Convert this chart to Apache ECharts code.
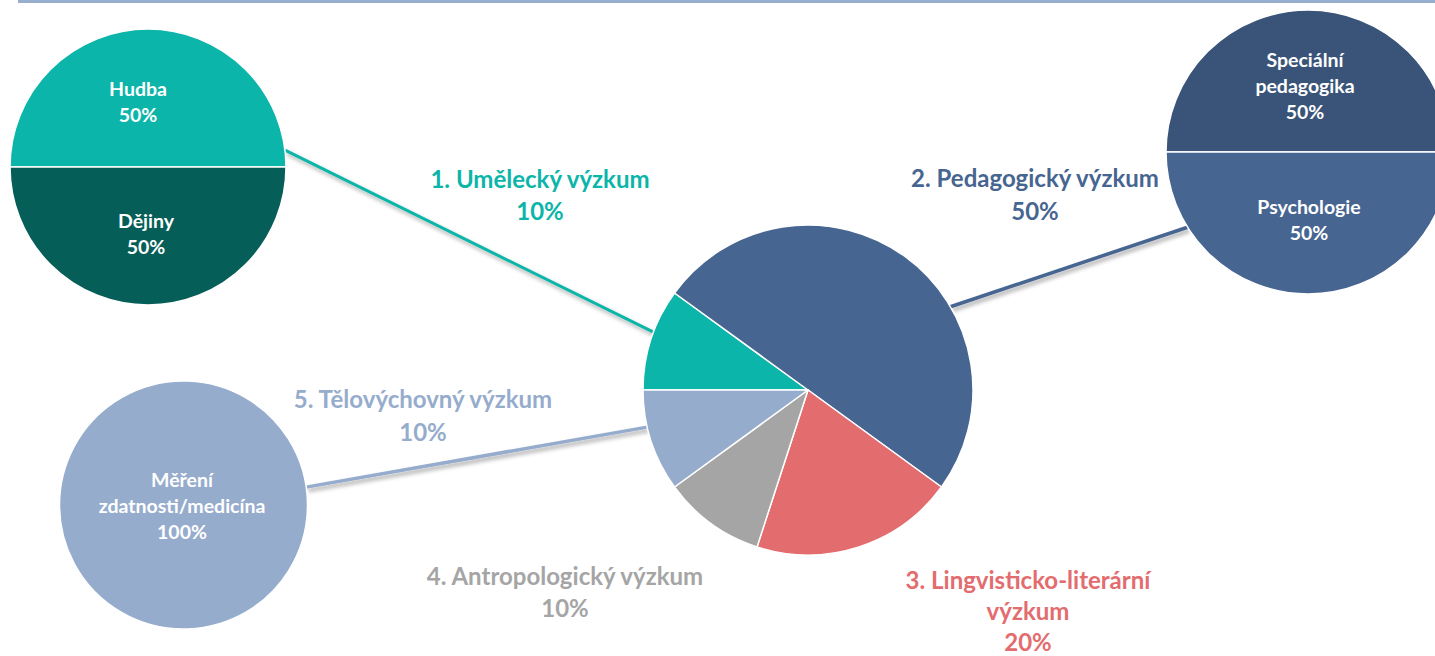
<!DOCTYPE html>
<html>
<head>
<meta charset="utf-8">
<script src="https://cdn.jsdelivr.net/npm/echarts@6/dist/echarts.min.js"></script>
<style>
html,body{margin:0;padding:0;background:#fff;}
#chart{width:1435px;height:656px;}
</style>
</head>
<body>
<div id="chart"></div>
<script>
// ---- data ----
const mainCategories = ['1. Umělecký výzkum', '2. Pedagogický výzkum', '3. Lingvisticko-literární\nvýzkum', '4. Antropologický výzkum', '5. Tělovýchovný výzkum'];
const mainValues = [10, 50, 20, 10, 10];
const artCategories = ['Hudba', 'Dějiny'];
const artValues = [50, 50];
const pedCategories = ['Speciální\npedagogika', 'Psychologie'];
const pedValues = [50, 50];
const sportCategories = ['Měření\nzdatnosti/medicína'];
const sportValues = [100];

// ---- styles / layout ----
const mainColors = ['#0bb5a9', '#476591', '#e36c6f', '#a5a5a5', '#96accc'];
const artColors = ['#0bb5a9', '#055e57'];
const pedColors = ['#3a5479', '#476591'];
const sportColors = ['#96accc'];

const MAIN = {c: [808, 390], r: 165};
const ART = {c: [148, 167], r: 138};
const PED = {c: [1308, 152], r: 142};
const SPORT = {c: [183.5, 505], r: 124};

// label anchor positions
const mainLabelPos = [[540, 194], [1035, 194], [1028, 610], [565, 591], [423, 415]];
const mainLineHeights = [32, 33, 31, 32, 33];
const artLabelPos = [[138, 101], [146, 233]];
const pedLabelPos = [[1305, 85], [1309, 219]];
const sportLabelPos = [[182, 505]];

const fontFamily = 'Lato, "Open Sans", sans-serif';

function pt(circle, deg) {
  const a = deg * Math.PI / 180;
  return [circle.c[0] + circle.r * Math.cos(a), circle.c[1] - circle.r * Math.sin(a)];
}
function connector(from, fromDeg, to, toDeg, color, width) {
  const p1 = pt(from, fromDeg), p2 = pt(to, toDeg);
  return {
    type: 'line', z: 1,
    shape: {x1: p1[0], y1: p1[1], x2: p2[0], y2: p2[1]},
    style: {stroke: color, lineWidth: width, shadowBlur: 4, shadowColor: 'rgba(0,0,0,0.35)', shadowOffsetX: 2, shadowOffsetY: 3}
  };
}

function smallPie(circle, cats, vals, colors, labelPos) {
  return {
    type: 'pie', z: 3,
    center: circle.c, radius: circle.r,
    startAngle: 180, clockwise: true,
    animation: false, silent: true,
    data: cats.map((n, i) => ({name: n, value: vals[i], itemStyle: {color: colors[i]}})),
    itemStyle: {borderColor: '#ffffff', borderWidth: 1.5},
    label: {
      show: true, position: 'inside', color: '#ffffff', fontWeight: 'bold',
      fontSize: 19.5, lineHeight: 26, fontFamily: fontFamily, align: 'center',
      formatter: p => p.name + '\n' + Math.round(p.percent) + '%'
    },
    labelLine: {show: false},
    labelLayout: p => ({
      x: labelPos[p.dataIndex][0], y: labelPos[p.dataIndex][1],
      align: 'center', verticalAlign: 'middle'
    })
  };
}

const chart = echarts.init(document.getElementById('chart'), null, {renderer: 'svg'});
chart.setOption({
  backgroundColor: '#ffffff',
  animation: false,
  graphic: [
    {type: 'rect', z: 0, shape: {x: 18, y: 0, width: 1417, height: 3}, style: {fill: '#97aece'}},
    connector(ART, 7, MAIN, 159.5, '#0bb5a9', 3),
    connector(PED, 212, MAIN, 30.3, '#476591', 3.5),
    connector(SPORT, 8.3, MAIN, 193, '#96accc', 3.5)
  ],
  series: [
    {
      type: 'pie', z: 3,
      center: MAIN.c, radius: MAIN.r,
      startAngle: 180, clockwise: true,
      animation: false, silent: true,
      data: mainCategories.map((n, i) => ({
        name: n, value: mainValues[i],
        itemStyle: {color: mainColors[i]},
        label: {color: mainColors[i], lineHeight: mainLineHeights[i]}
      })),
      itemStyle: {borderColor: '#ffffff', borderWidth: 1.5},
      label: {
        show: true, position: 'outside', fontWeight: 'bold',
        fontSize: 24, lineHeight: 32, fontFamily: fontFamily, align: 'center',
        formatter: p => p.name + '\n' + p.value + '%'
      },
      labelLine: {show: false},
      labelLayout: p => ({
        x: mainLabelPos[p.dataIndex][0], y: mainLabelPos[p.dataIndex][1],
        align: 'center', verticalAlign: 'middle'
      })
    },
    smallPie(ART, artCategories, artValues, artColors, artLabelPos),
    smallPie(PED, pedCategories, pedValues, pedColors, pedLabelPos),
    smallPie(SPORT, sportCategories, sportValues, sportColors, sportLabelPos)
  ]
});
</script>
</body>
</html>
